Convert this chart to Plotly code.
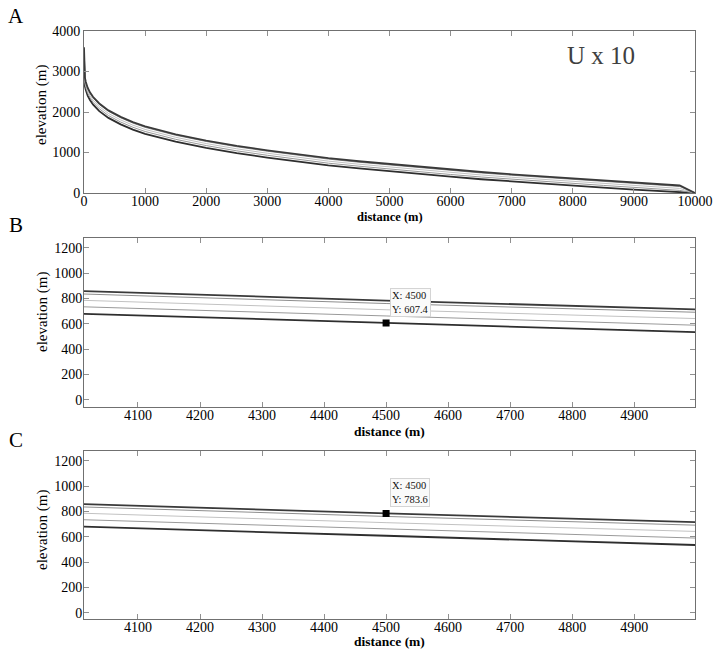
import plotly.graph_objects as go

# ---- data ----
distance = [0, 5, 15, 30, 60, 100, 150, 250, 400, 600, 800, 1000, 1250, 1500, 2000,
            2500, 3000, 3500, 4000, 4500, 5000, 5500, 6000, 6500, 7000, 7500, 8000,
            8500, 9000, 9500, 9750, 10000]

profile_bottom = [3350, 2770, 2640, 2540, 2405, 2290, 2180, 2022, 1854, 1695, 1566, 1462,
                  1358, 1269, 1115, 985, 876, 776, 681, 607.4, 534, 467, 402, 340, 284,
                  232, 182, 132, 84, 34, 10, 0]
profile_g1 = [3428, 2841, 2705, 2602, 2465, 2349, 2239, 2080, 1912, 1752, 1623, 1519,
              1414, 1325, 1171, 1041, 931, 831, 736, 662, 589, 522, 457, 395, 339,
              287, 237, 187, 139, 89, 64, 0]
profile_g2 = [3498, 2906, 2764, 2658, 2520, 2402, 2292, 2133, 1964, 1804, 1675, 1570,
              1465, 1376, 1221, 1091, 982, 882, 787, 711, 640, 572, 507, 445, 389,
              337, 287, 237, 189, 139, 113, 0]
profile_g3 = [3568, 2970, 2823, 2714, 2575, 2455, 2345, 2186, 2016, 1856, 1726, 1621,
              1516, 1426, 1272, 1142, 1032, 932, 837, 760, 690, 622, 557, 495, 439,
              387, 337, 287, 239, 189, 162, 0]
profile_top = [3600, 3000, 2850, 2740, 2600, 2480, 2370, 2210, 2040, 1880, 1750, 1645,
               1540, 1450, 1295, 1165, 1055, 955, 860, 783.6, 713, 645, 580, 518, 462,
               410, 360, 310, 262, 212, 185, 0]

tip_x = [4500, 4500]
tip_y = [607.4, 783.6]

panel_labels = ["A", "B", "C"]
xticks_A = [0, 1000, 2000, 3000, 4000, 5000, 6000, 7000, 8000, 9000, 10000]
yticks_A = [0, 1000, 2000, 3000, 4000]
xticks_BC = [4100, 4200, 4300, 4400, 4500, 4600, 4700, 4800, 4900]
yticks_BC = [0, 200, 400, 600, 800, 1000, 1200]

# ---- styling ----
W, H = 718, 650
FONT = "Liberation Serif"
profiles = [profile_bottom, profile_g1, profile_g2, profile_g3, profile_top]
colors = ["#2e2e2e", "#9a9a9a", "#c2c2c2", "#8e8e8e", "#3a3a3a"]
widths = [1.8, 1.0, 1.0, 1.0, 1.8]

# plot-area pixel boxes: (top, bottom)
boxes = [(31, 193), (238.3, 406.7), (451, 619)]
left_px, right_px = 84, 695
xranges = [[0, 10000], [4013, 4998], [4013, 4998]]
yranges = [[0, 4000], [-53, 1274], [-50, 1277]]
xtitle_y = [217, 431, 641]
xtitle_size = [12.5, 13.5, 13.5]
ytitle_y = [105, 312, 530]
letter_y = [16, 224.5, 440]
ytick_standoff = [0, -2, -2]

fig = go.Figure()

for i in range(3):
    xa = "x" if i == 0 else f"x{i+1}"
    ya = "y" if i == 0 else f"y{i+1}"
    for prof, c, w in zip(profiles, colors, widths):
        fig.add_trace(go.Scatter(x=distance, y=prof, mode="lines",
                                 line=dict(color=c, width=w),
                                 xaxis=xa, yaxis=ya, showlegend=False,
                                 hoverinfo="skip"))

# data tips on B (bottom line) and C (top line)
for k, (tx, ty) in enumerate(zip(tip_x, tip_y)):
    xa = f"x{k+2}"
    ya = f"y{k+2}"
    fig.add_trace(go.Scatter(x=[tx], y=[ty], mode="markers",
                             marker=dict(symbol="square", size=7, color="black"),
                             xaxis=xa, yaxis=ya, showlegend=False))
    fig.add_annotation(x=tx, y=ty, xref=xa, yref=ya, showarrow=False,
                       text=f"X: {tx:g}<br>Y: {ty:g}", align="left",
                       xanchor="left", yanchor="bottom", xshift=4, yshift=6,
                       bgcolor="#fafafa", bordercolor="#d4d4d4", borderwidth=1,
                       borderpad=1, font=dict(family=FONT, size=10.5, color="#111"))

axis_common = dict(showgrid=False, zeroline=False, showline=True,
                   linecolor="#707070", linewidth=1, mirror="ticks",
                   ticks="inside", ticklen=5, tickcolor="#909090",
                   tickfont=dict(family=FONT, size=14, color="black"),
                   automargin=False)

layout = {}
for i in range(3):
    top, bot = boxes[i]
    xk = "xaxis" if i == 0 else f"xaxis{i+1}"
    yk = "yaxis" if i == 0 else f"yaxis{i+1}"
    xt = xticks_A if i == 0 else xticks_BC
    yt = yticks_A if i == 0 else yticks_BC
    layout[xk] = dict(axis_common, domain=[left_px / W, right_px / W],
                      range=xranges[i], tickvals=xt, ticktext=[str(v) for v in xt],
                      ticklabelstandoff=-5,
                      anchor="y" if i == 0 else f"y{i+1}")
    layout[yk] = dict(axis_common, domain=[1 - bot / H, 1 - top / H],
                      range=yranges[i], tickvals=yt, ticktext=[str(v) for v in yt],
                      ticklabelstandoff=ytick_standoff[i],
                      anchor="x" if i == 0 else f"x{i+1}")

fig.update_layout(**layout)

for i in range(3):
    fig.add_annotation(x=(left_px + right_px) / 2 / W, y=1 - xtitle_y[i] / H,
                       xref="paper", yref="paper", showarrow=False,
                       text="<b>distance (m)</b>", xanchor="center", yanchor="middle",
                       font=dict(family=FONT, size=xtitle_size[i], color="black"))
    fig.add_annotation(x=42 / W, y=1 - ytitle_y[i] / H, xref="paper", yref="paper",
                       showarrow=False, text="elevation (m)", textangle=-90,
                       xanchor="center", yanchor="middle",
                       font=dict(family=FONT, size=15, color="black"))
    fig.add_annotation(x=15.5 / W, y=1 - letter_y[i] / H, xref="paper", yref="paper",
                       showarrow=False, text=panel_labels[i], xanchor="center",
                       yanchor="middle", font=dict(family=FONT, size=21, color="black"))

fig.add_annotation(x=601 / W, y=1 - 55 / H, xref="paper", yref="paper",
                   showarrow=False, text="U x 10", xanchor="center", yanchor="middle",
                   font=dict(family=FONT, size=25, color="#404040"))

fig.update_layout(width=W, height=H, margin=dict(l=0, r=0, t=0, b=0),
                  paper_bgcolor="white", plot_bgcolor="white",
                  font=dict(family=FONT, size=13, color="black"),
                  showlegend=False)

fig.write_html("out.html", config={"displayModeBar": False},
               post_script="document.body.style.margin='0';document.body.style.padding='0';")
